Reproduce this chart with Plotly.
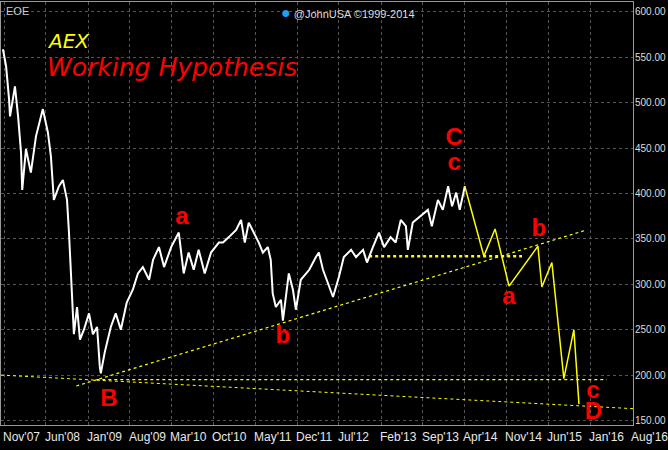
import plotly.graph_objects as go

# AEX index (white)
aex_dates = ["2007-10-26","2007-11-11","2007-11-26","2007-12-01","2007-12-26","2008-01-11","2008-01-26","2008-02-01",
"2008-02-20","2008-03-16","2008-04-11","2008-05-16","2008-06-11","2008-06-26","2008-07-11","2008-08-06","2008-08-26",
"2008-09-16","2008-09-26","2008-10-06","2008-10-11","2008-10-21","2008-11-06","2008-11-21","2008-12-11","2009-01-06",
"2009-01-26","2009-02-16","2009-03-02","2009-03-07","2009-03-27","2009-04-27","2009-05-22","2009-06-17","2009-07-17",
"2009-08-17","2009-09-12","2009-10-07","2009-11-08","2009-11-28","2009-12-28","2010-01-23","2010-02-28","2010-04-08",
"2010-05-03","2010-05-28","2010-06-23","2010-07-18","2010-08-18","2010-09-19","2010-10-29","2010-11-19","2010-12-19",
"2011-01-25","2011-02-19","2011-03-10","2011-03-30","2011-04-25","2011-05-20","2011-06-10","2011-07-05","2011-07-20",
"2011-07-30","2011-08-15","2011-09-10","2011-09-20","2011-10-20","2011-11-10","2011-11-25","2011-12-20","2012-02-01",
"2012-03-06","2012-03-21","2012-04-11","2012-05-11","2012-06-01","2012-07-01","2012-07-26","2012-09-01","2012-09-26",
"2012-11-01","2012-11-21","2012-12-21","2013-01-21","2013-02-16","2013-03-21","2013-04-16","2013-05-12","2013-06-07",
"2013-06-17","2013-07-12","2013-08-22","2013-09-27","2013-10-17","2013-11-17","2013-12-12","2014-01-08","2014-01-28",
"2014-02-18","2014-03-08","2014-04-03"]
aex_vals = [559,540,504,485,518,485,445,404,449,423,463,493,467,441,393,408,415,393,357,312,281,245,275,239,250,268,
245,253,209,202,225,253,268,250,280,294,312,319,305,327,341,319,341,357,312,335,316,338,312,335,346,346,352,360,371,
346,368,357,346,335,341,327,290,275,283,260,312,294,272,305,316,330,335,316,297,286,308,330,338,330,338,324,341,357,
341,352,346,371,364,338,368,375,382,364,393,382,408,386,401,382,408]

# projected path (yellow)
proj_dates = ["2014-04-03","2014-07-09","2014-09-04","2014-11-14","2015-04-10","2015-04-30","2015-06-20","2015-08-20","2015-10-10","2015-11-05"]
proj_vals = [408,331,361,298,342,297,324,196,250,168]

# dotted support / trend lines
hline1_dates = ["2012-12-02","2015-01-19"]; hline1_vals = [331,331]
trend_dates = ["2008-11-02","2015-12-01"]; trend_vals = [188,359]
hline2_dates = ["2009-02-12","2016-03-25"]; hline2_vals = [195,195]
down_dates = ["2007-10-16","2016-08-06"]; down_vals = [200,163]

# wave labels
lab_text = ["a","b","C","c","B","a","b","c","D"]
lab_dates = ["2010-04-24","2011-09-20","2014-02-08","2014-02-08","2009-04-17","2014-11-14","2015-04-15","2016-01-15","2016-01-18"]
lab_vals = [373,242,460,433,172,285,360,181,158]

tick_dates = ["2007-11-01","2008-06-01","2009-01-01","2009-08-01","2010-03-01","2010-10-01","2011-05-01","2011-12-01",
"2012-07-01","2013-02-01","2013-09-01","2014-04-01","2014-11-01","2015-06-01","2016-01-01","2016-08-01"]
tick_text = ["Nov'07","Jun'08","Jan'09","Aug'09","Mar'10","Oct'10","May'11","Dec'11","Jul'12","Feb'13","Sep'13",
"Apr'14","Nov'14","Jun'15","Jan'16","Aug'16"]
y_ticks = [150,200,250,300,350,400,450,500,550,600]

fig = go.Figure()
Y = "#ffff00"
fig.add_trace(go.Scatter(x=down_dates, y=down_vals, mode="lines", line=dict(color=Y, width=1, dash="dot")))
fig.add_trace(go.Scatter(x=hline2_dates, y=hline2_vals, mode="lines", line=dict(color=Y, width=1.2, dash="dot")))
fig.add_trace(go.Scatter(x=trend_dates, y=trend_vals, mode="lines", line=dict(color=Y, width=1.2, dash="dot")))
fig.add_trace(go.Scatter(x=hline1_dates, y=hline1_vals, mode="lines", line=dict(color=Y, width=2.5, dash="dot")))
fig.add_trace(go.Scatter(x=aex_dates, y=aex_vals, mode="lines", line=dict(color="white", width=2)))
fig.add_trace(go.Scatter(x=proj_dates, y=proj_vals, mode="lines", line=dict(color=Y, width=1.5)))
fig.add_trace(go.Scatter(x=lab_dates, y=lab_vals, mode="text", text=[f"<b>{t}</b>" for t in lab_text],
                         textfont=dict(color="#ff0000", size=24, family="Liberation Sans")))

for d, t in zip(tick_dates, tick_text):
    fig.add_annotation(x=d, y=0, xref="x", yref="paper", text=t, showarrow=False, xanchor="left", yanchor="top",
                       yshift=-3, xshift=-3, font=dict(color="#e8e8e8", size=12, family="Liberation Sans"))
for v in y_ticks:
    fig.add_annotation(x=1, y=v, xref="paper", yref="y", text=f"{v:.2f}", showarrow=False, xanchor="left", yanchor="middle",
                       xshift=0, font=dict(color="#dddddd", size=10, family="Liberation Sans"))

fig.add_annotation(x=0.004, y=0.998, xref="paper", yref="paper", text="EOE", showarrow=False, xanchor="left", yanchor="top",
                   font=dict(color="#cccccc", size=11, family="Liberation Sans"))
fig.add_annotation(x=0.44, y=1.0, xref="paper", yref="paper", text="<span style='color:#1da1f2;font-size:16px'>●</span> @JohnUSA ©1999-2014",
                   showarrow=False, xanchor="left", yanchor="top", font=dict(color="#dddddd", size=11, family="Liberation Sans"))
fig.add_annotation(x=0.07, y=0.94, xref="paper", yref="paper", text="<i>AEX</i>", showarrow=False, xanchor="left", yanchor="top",
                   font=dict(color="#ffff00", size=20, family="DejaVu Sans"))
fig.add_annotation(x=0.07, y=0.885, xref="paper", yref="paper", text="<i>Working Hypothesis</i>", showarrow=False, xanchor="left",
                   yanchor="top", font=dict(color="#ff0000", size=25, family="DejaVu Sans"))

fig.update_layout(
    width=668, height=450, paper_bgcolor="black", plot_bgcolor="black", showlegend=False,
    margin=dict(l=1, r=35, t=2, b=25),
    xaxis=dict(type="date", range=["2007-10-16", "2016-08-06"], tick0="2007-11-01", dtick="M7",
               showticklabels=False, showgrid=True, gridcolor="#555555", griddash="dot", gridwidth=1,
               showline=True, linecolor="#999999", mirror=True, zeroline=False),
    yaxis=dict(side="right", range=[145, 611], tickvals=y_ticks, showticklabels=False, showgrid=True, gridcolor="#555555",
               griddash="dot", showline=True, linecolor="#999999", mirror=True, zeroline=False, ticks=""),
)
fig.write_html("out.html", config={"displayModeBar": False})
with open("out.html") as f:
    html = f.read()
html = html.replace("<head>", "<head><style>body{margin:0;background:black;overflow:hidden}</style>", 1)
with open("out.html", "w") as f:
    f.write(html)
